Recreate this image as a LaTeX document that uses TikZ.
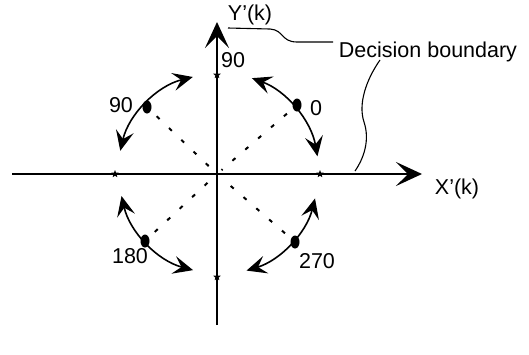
\documentclass[tikz,border=0pt]{standalone}
\usepackage{fontspec}
\setmainfont{Liberation Sans}
\usetikzlibrary{arrows.meta,shapes.geometric}
\begin{document}
\begin{tikzpicture}[x=1pt,y=-1pt,
  lbl/.style={font=\fontsize{21.5}{24}\selectfont, inner sep=0pt},
  pt/.style={ellipse, fill=black, minimum width=9pt, minimum height=13pt, inner sep=0pt},
  starmark/.style={star, star points=5, star point ratio=2.3, fill=black, minimum size=8pt, inner sep=0pt},
  axisline/.style={line width=1.7pt, -{Stealth[length=26pt,width=24pt,inset=12pt]}},
  swing/.style={line width=1.6pt, {Stealth[length=20pt,width=18pt,inset=8pt]}-{Stealth[length=20pt,width=18pt,inset=8pt]}},
  dotl/.style={line width=2pt, dash pattern=on 4pt off 13pt},
  leader/.style={line width=1.1pt}
]
\useasboundingbox (0,0) rectangle (529,354);

% axes
\coordinate (O) at (217,174);
\coordinate (xl) at (12,174);
\coordinate (xr) at (422,174);
\coordinate (yb) at (217,325);
\coordinate (yt) at (217,22);
\draw[line width=1.7pt] (xl) -- (O);
\draw[axisline] (O) -- (xr);
\draw[line width=1.7pt] (yb) -- (O);
\draw[axisline] (O) -- (yt);

% star marks on axes
\node[starmark] (s0) at (320,174) {};
\node[starmark] (s180) at (115,174) {};
\node[starmark] (s90) at (217,75) {};
\node[starmark] (s270) at (217,277) {};

% constellation points
\node[pt] (p90) at (147,107) {};
\node[pt] (p0) at (297,105) {};
\node[pt] (p180) at (145,241) {};
\node[pt] (p270) at (295,242) {};

% dotted lines to origin
\draw[dotl, shorten <=8pt, shorten >=6pt] (p90) -- (O);
\draw[dotl, shorten <=8pt, shorten >=6pt] (p0) -- (O);
\draw[dotl, shorten <=8pt, shorten >=6pt] (p180) -- (O);
\draw[dotl, shorten <=8pt, shorten >=6pt] (p270) -- (O);

% swing arcs (angles negated because y points down)
\draw[swing] ([shift={(O)}]-104:100) arc[start angle=-104, end angle=-167, radius=99];
\draw[swing] ([shift={(O)}]-70:102) arc[start angle=-70, end angle=-10, radius=102];
\draw[swing] ([shift={(O)}]-193:98) arc[start angle=-193, end angle=-255, radius=100];
\draw[swing] ([shift={(O)}]14:101) arc[start angle=14, end angle=73, radius=101];

% labels
\node[lbl] (l90) at (121,105) {90};
\node[lbl] (l0) at (316,108) {0};
\node[lbl] (l180) at (130,256) {180};
\node[lbl] (l270) at (317,261) {270};
\node[lbl] (ly90) at (233,60) {90};
\node[lbl] (ylab) at (250,15) {Y\symbol{39}(k)};
\node[lbl] (xlab) at (457,189) {X\symbol{39}(k)};
\node[lbl] (db) at (428,52) {Decision boundary};

% decision boundary leaders
\coordinate (a1) at (228,28);
\coordinate (a2) at (333,42);
\draw[leader] (a1) -- (270,29) .. controls (284,30) and (281,42) .. (297,42) -- (a2);
\coordinate (b1) at (380,60);
\coordinate (b2) at (355,171);
\draw[leader] (b1) .. controls (366,80) and (358,104) .. (364,122) .. controls (370,140) and (364,158) .. (b2);
\end{tikzpicture}
\end{document}
